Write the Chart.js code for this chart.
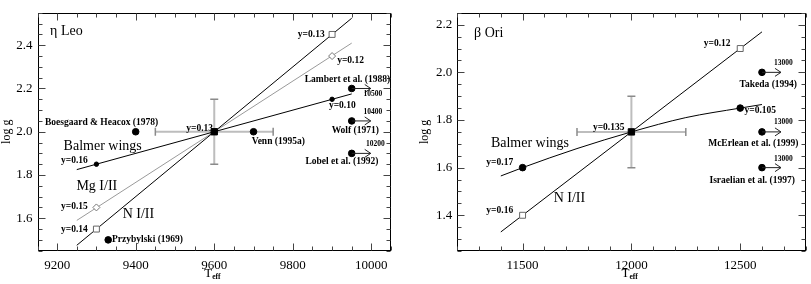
<!DOCTYPE html>
<html>
<head>
<meta charset="utf-8">
<script src="https://cdn.jsdelivr.net/npm/chart.js@4.4.1/dist/chart.umd.min.js"></script>
<style>
html, body { margin: 0; padding: 0; background: #fff; }
#wrap { position: relative; width: 811px; height: 284px; }
canvas { position: absolute; top: 0; }
</style>
</head>
<body>
<div id="wrap">
  <canvas id="leo" width="405" height="284" style="left:0"></canvas>
  <canvas id="ori" width="405" height="284" style="left:406px"></canvas>
</div>
<script>
// ---- eta Leo ----
const leoXTicks = [9200, 9400, 9600, 9800, 10000]
const leoYTicks = [1.6, 1.8, 2.0, 2.2, 2.4]
const leoCentre = [9600, 2.0]
const leoErr = [150, 0.15]
const leoNLine = [[9250, 1.475], [9950, 2.525]]
const leoNMarks = [[9300, 1.55], [9900, 2.45]]
const leoMgLine = [[9250, 1.59], [9950, 2.41]]
const leoMgMarks = [[9300, 1.65], [9900, 2.35]]
const leoBalLine = [[9250, 1.825], [9950, 2.175]]
const leoBalMarks = [[9300, 1.85], [9900, 2.15]]
const leoLit = [[9400, 2.0], [9700, 2.0], [9330, 1.5]]
const leoLimits = [[9950, 2.2], [9950, 2.05], [9950, 1.9]]

// ---- beta Ori ----
const oriXTicks = [11500, 12000, 12500]
const oriYTicks = [1.4, 1.6, 1.8, 2.0, 2.2]
const oriCentre = [12000, 1.75]
const oriErr = [250, 0.15]
const oriNLine = [[11400, 1.33], [12600, 2.17]]
const oriNMarks = [[11500, 1.40], [12500, 2.10]]
const oriBalLine = [[11400, 1.565], [11500, 1.60], [11750, 1.68], [12000, 1.75], [12250, 1.81], [12500, 1.85], [12600, 1.865]]
const oriBalMarks = [[11500, 1.60], [12500, 1.85]]
const oriLimits = [[12600, 2.0], [12600, 1.75], [12600, 1.6]]

const SMALL = 'bold 9.5px "Liberation Serif"'
const TINY = 'bold 7.5px "Liberation Serif"'
const MID = '14px "Liberation Serif"'
const NAME = '14px "Liberation Serif"'

const leoTexts = [
  ['\u03b7 Leo', 9182, 2.466, 'left', NAME],
  ['Boesgaard & Heacox (1978)', 9313, 2.041, 'center', SMALL],
  ['y=0.13', 9597, 2.016, 'right', SMALL],
  ['y=0.13', 9847, 2.448, 'center', SMALL],
  ['y=0.12', 9947, 2.331, 'center', SMALL],
  ['Lambert et al. (1988)', 9939, 2.243, 'center', SMALL],
  ['10500', 10004, 2.172, 'center', TINY],
  ['y=0.10', 9926, 2.119, 'center', SMALL],
  ['10400', 10004, 2.092, 'center', TINY],
  ['Wolf (1971)', 9959, 2.004, 'center', SMALL],
  ['Venn (1995a)', 9763, 1.956, 'center', SMALL],
  ['10200', 10010, 1.943, 'center', TINY],
  ['Lobel et al. (1992)', 9925, 1.861, 'center', SMALL],
  ['Balmer wings', 9316, 1.934, 'center', MID],
  ['y=0.16', 9244, 1.865, 'center', SMALL],
  ['Mg I/II', 9301, 1.748, 'center', MID],
  ['y=0.15', 9244, 1.653, 'center', SMALL],
  ['N I/II', 9407, 1.616, 'center', MID],
  ['y=0.14', 9244, 1.548, 'center', SMALL],
  ['Przybylski (1969)', 9430, 1.502, 'center', SMALL]
]

const oriTexts = [
  ['\u03b2 Ori', 11277, 2.162, 'left', NAME],
  ['y=0.12', 12394, 2.12, 'center', SMALL],
  ['13000', 12698, 2.04, 'center', TINY],
  ['Takeda (1994)', 12629, 1.949, 'center', SMALL],
  ['y=0.105', 12592, 1.84, 'center', SMALL],
  ['y=0.135', 11968, 1.769, 'right', SMALL],
  ['13000', 12698, 1.79, 'center', TINY],
  ['McErlean et al. (1999)', 12560, 1.70, 'center', SMALL],
  ['13000', 12698, 1.637, 'center', TINY],
  ['Israelian et al. (1997)', 12555, 1.546, 'center', SMALL],
  ['Balmer wings', 11534, 1.704, 'center', MID],
  ['y=0.17', 11395, 1.62, 'center', SMALL],
  ['N I/II', 11715, 1.473, 'center', MID],
  ['y=0.16', 11395, 1.42, 'center', SMALL]
]

const pts = arr => arr.map(p => ({x: p[0], y: p[1]}))

const decor = {
  id: 'decor',
  afterDraw(chart, args, o) {
    const {ctx, chartArea: a} = chart
    const xs = chart.scales.x, ys = chart.scales.y
    ctx.save()
    // frame
    ctx.strokeStyle = '#000'
    ctx.lineWidth = 1
    const L = Math.round(a.left) + 0.5, R = Math.round(a.right) - 0.5
    const T = Math.round(a.top) + 0.5, B = Math.round(a.bottom) - 0.5
    ctx.strokeRect(L, T, R - L, B - T)

    // inside ticks, major and minor
    const steps = (min, max, step, majors, fn) => {
      for (let i = Math.ceil(min / step - 1e-9); i * step <= max + 1e-9; i++) {
        const v = i * step
        fn(v, majors.some(m => Math.abs(m - v) < 1e-6))
      }
    }
    ctx.strokeStyle = '#444'
    ctx.beginPath()
    steps(xs.min, xs.max, o.xStep, o.xMajor, (v, big) => {
      const px = Math.round(xs.getPixelForValue(v)) + 0.5
      const len = big ? 7 : 4
      ctx.moveTo(px, B); ctx.lineTo(px, B - len)
      ctx.moveTo(px, T); ctx.lineTo(px, T + len)
    })
    steps(ys.min, ys.max, o.yStep, o.yMajor, (v, big) => {
      const py = Math.round(ys.getPixelForValue(v)) + 0.5
      const len = big ? 7 : 4
      ctx.moveTo(L, py); ctx.lineTo(L + len, py)
      ctx.moveTo(R, py); ctx.lineTo(R - len, py)
    })
    ctx.stroke()

    // lower limit arrows
    ctx.strokeStyle = '#222'
    ctx.lineWidth = 1
    o.limits.forEach(p => {
      const px = xs.getPixelForValue(p[0]), py = ys.getPixelForValue(p[1])
      const tip = px + 19
      ctx.beginPath()
      ctx.moveTo(px, py); ctx.lineTo(tip, py)
      ctx.moveTo(tip - 6, py - 4); ctx.lineTo(tip, py); ctx.lineTo(tip - 6, py + 4)
      ctx.stroke()
    })

    // labels
    ctx.fillStyle = '#000'
    ctx.textBaseline = 'middle'
    o.texts.forEach(t => {
      ctx.font = t[4]
      ctx.textAlign = t[3]
      ctx.fillText(t[0], xs.getPixelForValue(t[1]), ys.getPixelForValue(t[2]))
    })

    // axis titles
    ctx.font = '12px "Liberation Serif"'
    ctx.textAlign = 'center'
    ctx.save()
    ctx.translate(o.yTitleX, (a.top + a.bottom) / 2)
    ctx.rotate(-Math.PI / 2)
    ctx.fillText('log g', 0, 0)
    ctx.restore()
    const cx = (a.left + a.right) / 2
    ctx.font = '13px "Liberation Serif"'
    ctx.textAlign = 'right'
    ctx.fillText('T', cx - 2, 274)
    ctx.font = 'bold 7.5px "Liberation Serif"'
    ctx.textAlign = 'left'
    ctx.fillText('eff', cx - 2, 277)
    ctx.restore()
  }
}

function makePanel(id, p) {
  const datasets = [
    {data: pts(p.nLine), showLine: true, borderColor: '#000', borderWidth: 1, pointRadius: 0, order: 5},
    {data: pts(p.balLine), showLine: true, borderColor: '#000', borderWidth: 1, pointRadius: 0,
     cubicInterpolationMode: 'monotone', order: 5},
    {data: pts([[p.centre[0] - p.err[0], p.centre[1]], [p.centre[0] + p.err[0], p.centre[1]]]),
     showLine: true, borderColor: '#bdbdbd', borderWidth: 2, pointStyle: 'line', rotation: 90,
     pointRadius: 4, pointBorderWidth: 1.5, pointBorderColor: '#8a8a8a', order: 10},
    {data: pts([[p.centre[0], p.centre[1] - p.err[1]], [p.centre[0], p.centre[1] + p.err[1]]]),
     showLine: true, borderColor: '#bdbdbd', borderWidth: 2, pointStyle: 'line', rotation: 0,
     pointRadius: 4, pointBorderWidth: 1.5, pointBorderColor: '#8a8a8a', order: 10},
    {data: pts(p.nMarks), pointStyle: 'rect', pointRadius: 4.2, backgroundColor: '#fff',
     borderColor: '#666', pointBorderWidth: 1, order: 1},
    {data: pts(p.balMarks), pointStyle: 'circle', pointRadius: p.balR, backgroundColor: '#000',
     borderColor: '#000', order: 1},
    {data: pts(p.lit.concat(p.limits)), pointStyle: 'circle', pointRadius: 3.3, backgroundColor: '#000',
     borderColor: '#000', order: 1},
    {data: pts([p.centre]), pointStyle: 'rect', pointRadius: 4.5, backgroundColor: '#000',
     borderColor: '#000', order: 0}
  ]
  if (p.mgLine) {
    datasets.push({data: pts(p.mgLine), showLine: true, borderColor: '#9a9a9a', borderWidth: 1,
                   pointRadius: 0, order: 6})
    datasets.push({data: pts(p.mgMarks), pointStyle: 'rectRot', pointRadius: 3.5, backgroundColor: '#fff',
                   borderColor: '#777', pointBorderWidth: 1, order: 1})
  }
  const tickFont = {family: 'Liberation Serif', size: 13}
  return new Chart(document.getElementById(id), {
    type: 'scatter',
    data: {datasets: datasets},
    options: {
      responsive: false,
      animation: false,
      layout: {padding: {top: 0, right: p.padRight, left: 0, bottom: 0}},
      plugins: {
        legend: {display: false},
        tooltip: {enabled: false},
        decor: {xStep: p.xStep, yStep: p.yStep, xMajor: p.xTicks, yMajor: p.yTicks,
                limits: p.limits, texts: p.texts, yTitleX: p.yTitleX}
      },
      scales: {
        x: {
          type: 'linear', min: p.xMin, max: p.xMax,
          grid: {display: false, drawTicks: false},
          border: {display: false},
          afterBuildTicks: s => { s.ticks = p.xTicks.map(v => ({value: v})) },
          afterFit: s => { s.height = p.xH },
          ticks: {color: '#000', font: tickFont, padding: 7, maxRotation: 0, callback: v => String(v)}
        },
        y: {
          type: 'linear', min: p.yMin, max: p.yMax,
          grid: {display: false, drawTicks: false},
          border: {display: false},
          afterBuildTicks: s => { s.ticks = p.yTicks.map(v => ({value: v})) },
          afterFit: s => { s.width = p.yW },
          ticks: {color: '#000', font: tickFont, padding: 5, callback: v => v.toFixed(1)}
        }
      }
    },
    plugins: [decor]
  })
}

makePanel('leo', {
  xTicks: leoXTicks, yTicks: leoYTicks, xMin: 9150, xMax: 10050, yMin: 1.45, yMax: 2.55,
  xStep: 50, yStep: 0.05, centre: leoCentre, err: leoErr,
  nLine: leoNLine, nMarks: leoNMarks, mgLine: leoMgLine, mgMarks: leoMgMarks,
  balLine: leoBalLine, balMarks: leoBalMarks, balR: 2.2, lit: leoLit, limits: leoLimits,
  texts: leoTexts, yW: 37.5, xH: 33.3, padRight: 14, yTitleX: 7
})

makePanel('ori', {
  xTicks: oriXTicks, yTicks: oriYTicks, xMin: 11200, xMax: 12800, yMin: 1.25, yMax: 2.25,
  xStep: 100, yStep: 0.05, centre: oriCentre, err: oriErr,
  nLine: oriNLine, nMarks: oriNMarks,
  balLine: oriBalLine, balMarks: oriBalMarks, balR: 3.3, lit: [], limits: oriLimits,
  texts: oriTexts, yW: 51.3, xH: 33, padRight: 0, yTitleX: 19
})
</script>
</body>
</html>
